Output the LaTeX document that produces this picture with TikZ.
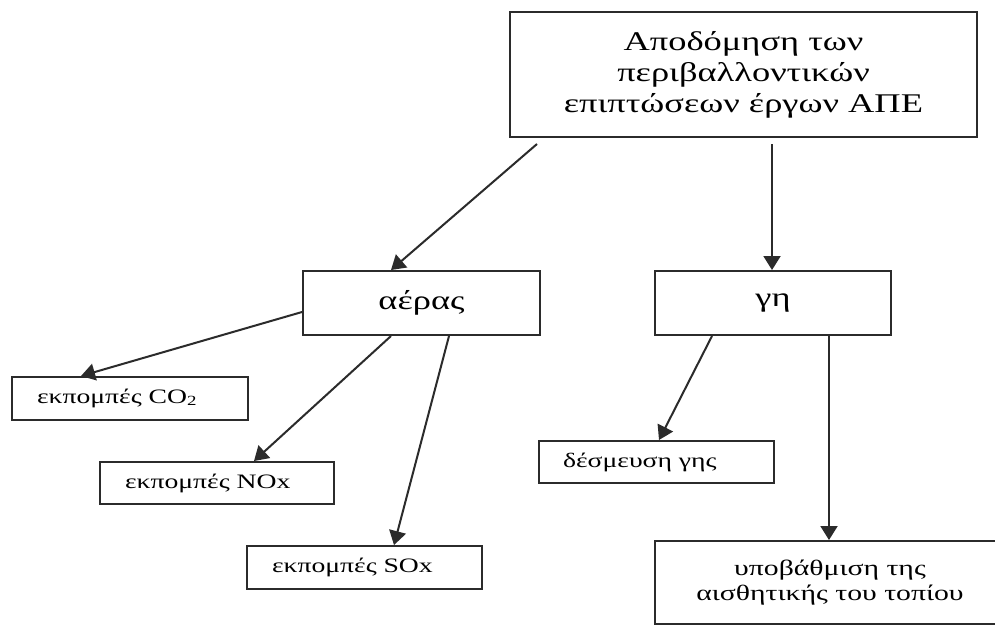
\documentclass[tikz,border=0pt]{standalone}
\usepackage{fontspec}
\setmainfont{Liberation Serif}[FakeStretch=1.35]
\usetikzlibrary{arrows.meta,calc}

\definecolor{ink}{HTML}{2B2B2B}

\tikzset{
  box/.style={draw=ink, line width=2pt, inner sep=0pt, anchor=center},
  bigbox/.style={box, align=center, font=\fontsize{27}{31}\selectfont},
  midbox/.style={box, font=\fontsize{27}{31}\selectfont},
  leafbox/.style={box, align=left, text width=#1, font=\fontsize{20.5}{24}\selectfont},
  link/.style={draw=ink, line width=2pt, -{Triangle[length=14pt,width=17pt]}}
}

\begin{document}
\begin{tikzpicture}[x=1pt,y=-1pt]
  \useasboundingbox (0,0) rectangle (995,625);
  \clip (0,0) rectangle (995,625);
  \fill[white] (0,0) rectangle (995,625);

  % top-level box
  \node[bigbox, minimum width=467pt, minimum height=125pt] (top) at (743.5,74.5)
    {Αποδόμηση των\\περιβαλλοντικών\\επιπτώσεων έργων ΑΠΕ};

  % second level
  \node[midbox, minimum width=237pt, minimum height=64pt] (aeras) at (421.5,303) {αέρας};
  \node[midbox, minimum width=236pt, minimum height=64pt] (gi) at (773,303) {γη};

  % leaves under "air"
  \node[leafbox=236pt, minimum height=43pt] (co2) at (130,398.5)
    {\hspace*{25pt}εκπομπές CO\raisebox{-2pt}{\fontsize{14}{14}\selectfont 2}};
  \node[leafbox=234pt, minimum height=42pt] (nox) at (217,483)
    {\hspace*{25pt}εκπομπές NOx};
  \node[leafbox=235pt, minimum height=43pt] (sox) at (364.5,567.5)
    {\hspace*{25pt}εκπομπές SOx};

  % leaves under "land"
  \node[leafbox=235pt, minimum height=42pt] (desm) at (656.5,462)
    {\hspace*{24pt}δέσμευση γης};
  \node[box, align=center, minimum width=350pt, minimum height=83pt,
        font=\fontsize{22}{25}\selectfont] (ypov) at (830,582.5)
    {υποβάθμιση της\\αισθητικής του τοπίου};

  % connectors
  \draw[link] ($(top.south west)+(28,6)$) -- ($(aeras.north west)+(89,0)$);
  \draw[link] ($(top.south -| gi.north)+(-1,6)$) -- ($(gi.north)+(-1,0)$);

  \draw[link] ($(aeras.west)+(0,9)$) -- ($(co2.north west)+(70,0)$);
  \draw[link] ($(aeras.south west)+(89,0)$) -- ($(nox.north west)+(155,0)$);
  \draw[link] ($(aeras.south west)+(147,0)$) -- ($(sox.north west)+(148,0)$);

  \draw[link] ($(gi.south west)+(58,0)$) -- ($(desm.north west)+(121,0)$);
  \draw[link] ($(gi.south west)+(175,0)$) -- ($(ypov.north west)+(175,0)$);
\end{tikzpicture}
\end{document}
